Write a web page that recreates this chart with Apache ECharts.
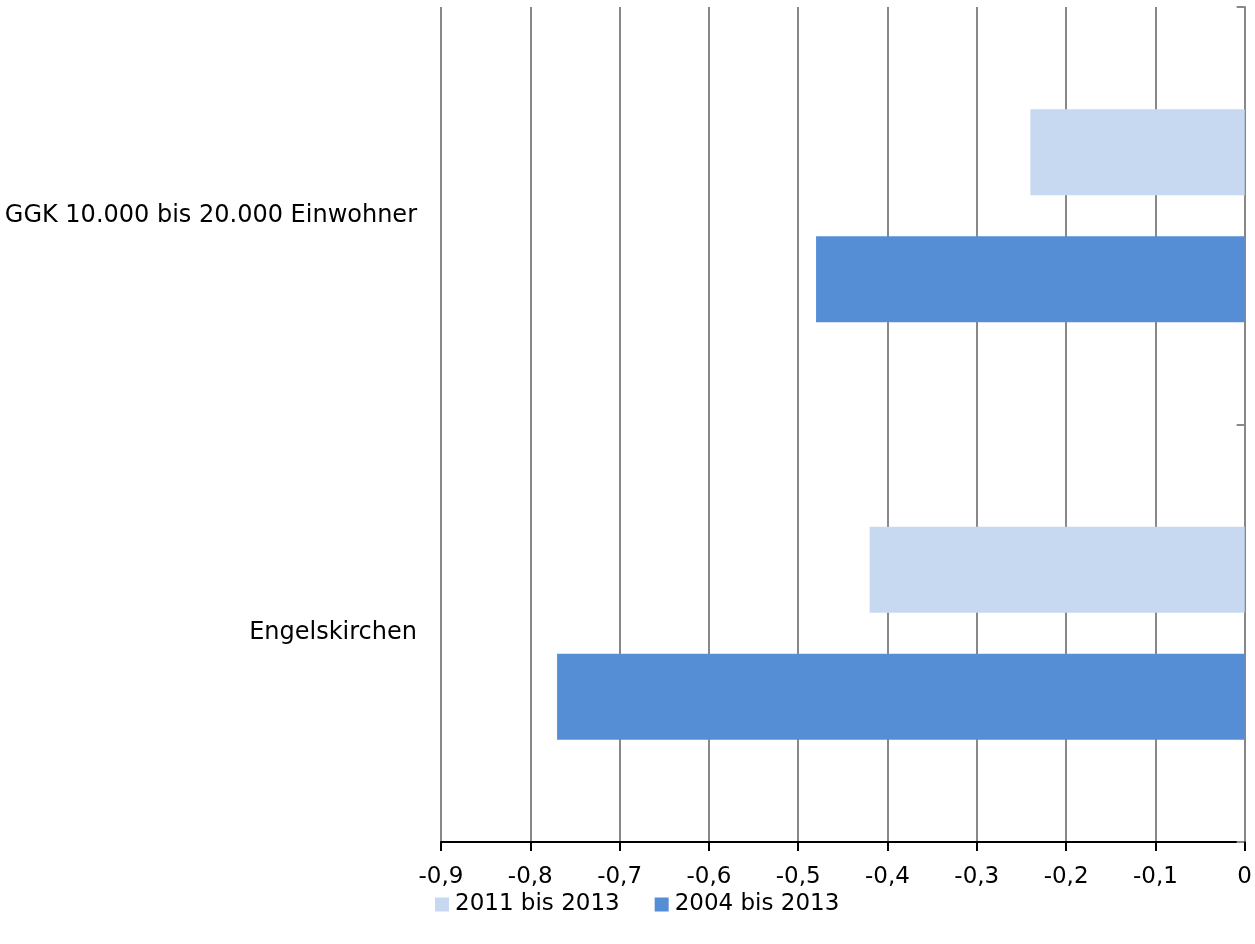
<!DOCTYPE html>
<html><head><meta charset="utf-8">
<script src="https://cdn.jsdelivr.net/npm/echarts@6/dist/echarts.min.js"></script>
<style>html,body{margin:0;padding:0;background:#fff}#c{width:1255px;height:944px}</style>
</head><body><div id="c"></div>
<script>
const categories = ['GGK 10.000 bis 20.000 Einwohner', 'Engelskirchen'];
const seriesNames = ['2011 bis 2013', '2004 bis 2013'];
const values2011 = [-0.24, -0.42];
const values2004 = [-0.48, -0.77];
const xTicks = { min: -0.9, max: 0, step: 0.1 };

const FONT = '"DejaVu Sans", sans-serif';
const chart = echarts.init(document.getElementById('c'));
chart.setOption({
  animation: false,
  textStyle: { fontFamily: FONT },
  legend: {
    data: seriesNames,
    bottom: 23,
    left: 430,
    itemWidth: 14, itemHeight: 14, itemGap: 35,
    icon: 'rect',
    textStyle: { fontSize: 23, color: '#000', fontFamily: FONT, padding: [0,0,0,1] }
  },
  grid: { left: 441, right: 10, top: 7, bottom: 102, containLabel: false },
  xAxis: {
    type: 'value', min: xTicks.min, max: xTicks.max, interval: xTicks.step,
    axisLine: { show: true, lineStyle: { color: '#000', width: 2 } },
    axisTick: { show: true, length: 9, lineStyle: { color: '#000', width: 2 } },
    axisLabel: { fontSize: 23, color: '#000', margin: 24, fontFamily: FONT,
      formatter: v => (Math.round(v*10)/10).toString().replace('.', ',') },
    splitLine: { show: true, lineStyle: { color: '#888', width: 2 } }
  },
  yAxis: [{
    type: 'category', data: categories, inverse: true, position: 'left',
    axisLine: { show: false }, axisTick: { show: false },
    axisLabel: { fontSize: 24, color: '#000', margin: 24, fontFamily: FONT }
  }, {
    type: 'category', data: categories, inverse: true, position: 'right',
    axisLine: { show: true, lineStyle: { color: '#888', width: 2 } },
    axisTick: { show: true, inside: true, length: 8, lineStyle: { color: '#888', width: 2 } },
    axisLabel: { show: false }
  }],
  series: [
    { name: seriesNames[0], type: 'bar', data: values2011, yAxisIndex: 0,
      itemStyle: { color: '#c6d9f1' }, barGap: '48%', barCategoryGap: '49%' },
    { name: seriesNames[1], type: 'bar', data: values2004, yAxisIndex: 0,
      itemStyle: { color: '#558ed5' }, barGap: '48%', barCategoryGap: '49%' }
  ]
});
</script></body></html>
